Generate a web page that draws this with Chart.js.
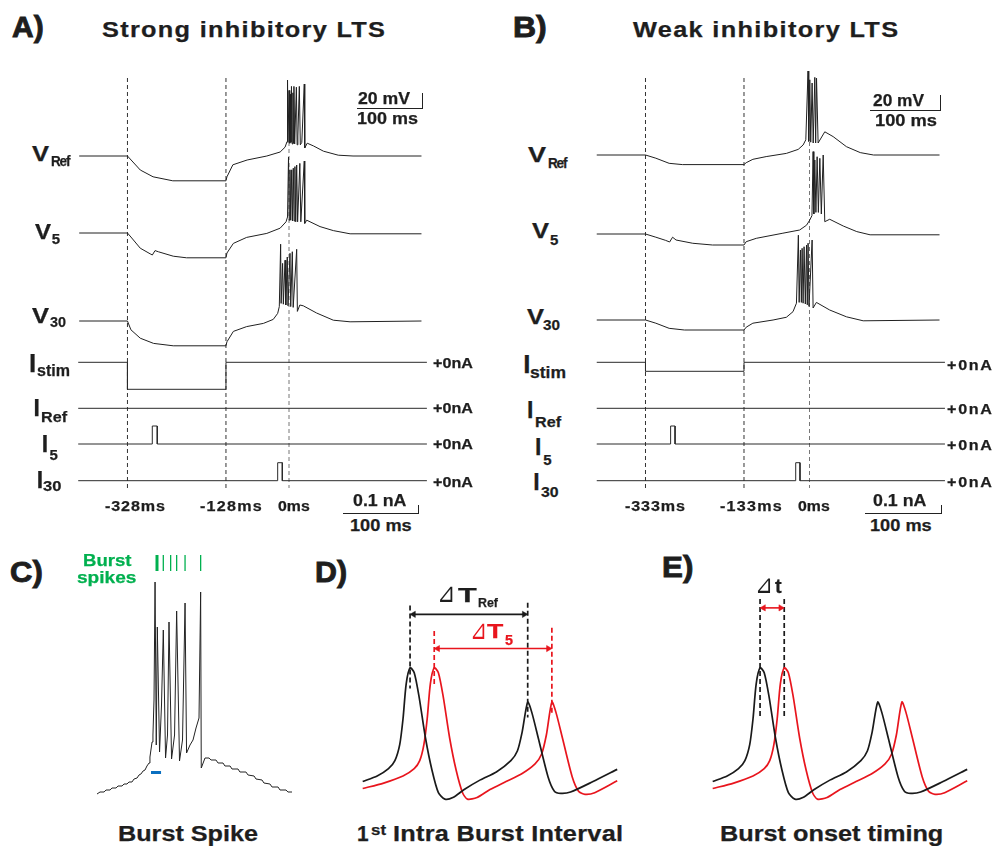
<!DOCTYPE html>
<html><head><meta charset="utf-8">
<script src="https://cdn.jsdelivr.net/npm/chart.js@4.4.1/dist/chart.umd.min.js"></script>
<style>
html,body{margin:0;padding:0;background:#fff;}
#stage{position:relative;width:992px;height:846px;overflow:hidden;background:#fff;}
#stage canvas{position:absolute;}
.t{position:absolute;white-space:nowrap;color:#1e1e1e;transform-origin:0 0;-webkit-text-stroke:0.25px currentColor;}
.h{-webkit-text-stroke:0.9px currentColor;}
.rule{position:absolute;background:#222;}
</style></head>
<body><div id="stage"></div>
<script>
// ================= DATA =================
// Panel A — strong inhibitory LTS   (time ms, membrane potential mV / current nA)
const strongMarkers = [-328, -128, 0];
const strongMarkerLabels = ['-328ms', '-128ms', '0ms'];
const strongVRef = [[-426,-65],[-328,-65],[-302,-82.5],[-276,-91],[-236,-96],[-128,-96],[-126,-91],[-114,-76],[-85,-70],[-45,-65],[-18,-60],[-8,-54],[-4,-47],
  [-3,30],[-2,-48],[0,17],[1.5,-49],[3,12],[4,-48],[5,22],[6.5,-50],[8,14],[9,-49],[10,22],[11.5,-50],[15,21],[16.5,-51],[18,-40],[21,22],[23,-51],[26,-48],[31,25],[32,-55],[37,-49],[50,-52.5],[70,-59],[100,-64],[130,-65],[269,-65]];
const strongV5 = [[-426,-65],[-328,-65],[-321,-70],[-302,-84],[-282,-91],[-277.5,-92.5],[-272,-87],[-265,-88.5],[-235,-94],[-208,-96],[-128,-96],[-126,-90],[-113,-78],[-86,-70.5],[-45,-65.5],[-18,-59],[-6,-51],[-3,-45],
  [-1,30],[0.5,-49],[2,14],[3.5,-49],[5.5,14],[7,-50],[8.7,16],[10.3,-50],[12,18],[13.7,-51],[15.6,20],[17.5,-51],[22,22],[24,-51],[31,25],[32,-53],[36,-49],[63,-57],[90,-62],[124,-66],[269,-66]];
const strongV30 = [[-426,-65],[-328,-65],[-321,-76],[-302,-86.5],[-275,-93],[-235,-96],[-128,-96],[-126,-91],[-113,-78],[-86,-72],[-52,-68],[-32,-63],[-23,-55.5],[-19.7,-47],
  [-17,31],[-16,-43],[-13,7],[-11.5,-44],[-8,11],[-6.5,-45],[-3.5,15],[-2,-46],[2,19.6],[3.5,-47],[6.7,21.6],[8.5,-48],[15.6,24.6],[17,-53],[22,-45],[29,-46],[56,-55],[90,-64],[124,-66],[269,-65]];
const strongIstim = [[-428,0],[-328,0],[-328,-0.27],[-128,-0.27],[-128,0],[280,0]];
const strongIRef  = [[-428,0],[280,0]];
const strongI5    = [[-428,0],[-277.6,0],[-277.6,0.18],[-267.5,0.18],[-267.5,0],[280,0]];
const strongI30   = [[-428,0],[-23,0],[-23,0.18],[-13.6,0.18],[-13.6,0],[280,0]];

// Panel B — weak inhibitory LTS
const weakMarkers = [-333, -133, 0];
const weakMarkerLabels = ['-333ms', '-133ms', '0ms'];
const weakVRef = [[-432,-65],[-333,-65],[-312,-69],[-285,-75.4],[-258,-77],[-133,-77],[-128.5,-74.6],[-115,-70.4],[-88,-67],[-47,-63],[-23,-58],[-13,-52.5],[-7.5,-46],
  [-3,40],[-1.5,-48],[0.6,29],[2.5,-49],[5.3,25],[7.5,-50],[10.8,32],[12.5,-50],[14.3,31],[17.5,-50],[31,-36],[48,-42],[75,-54.6],[103,-62],[130,-65],[264,-65]];
const weakV5 = [[-432,-65],[-333,-65],[-312,-69],[-292,-73],[-284,-75],[-278,-69],[-271,-72.5],[-237,-76.6],[-197,-78.75],[-133,-78.75],[-128.5,-74.6],[-108,-70.4],[-54,-64],[-20,-60],[-6,-54],[0.6,-47.5],
  [5,-42],[7.3,38],[8.8,-40],[10.8,27.5],[13,-38],[15.5,31.6],[18,-38],[21,29.6],[24,-40],[27.8,33.75],[31,-49.6],[41,-46.6],[68.5,-55],[96,-62],[123,-66],[264,-66]];
const weakV30 = [[-432,-65],[-333,-65],[-312,-69],[-285,-75.4],[-254,-77.5],[-133,-77.5],[-128.5,-74],[-115,-69],[-74,-65],[-47,-61.6],[-33.5,-54.6],[-26.5,-44],
  [-22.6,41],[-21,-43],[-18.4,22.5],[-16.5,-43],[-15,24.6],[-13,-44],[-11,26.6],[-8.5,-45],[-6,28.75],[-4.5,-46],[-2.9,31],[-1,-48],[5.3,35],[7.3,-50],[14,-43],[41,-52.5],[75,-61],[109,-66],[264,-65]];
const weakIstim = [[-432,0],[-333,0],[-333,-0.09],[-133,-0.09],[-133,0],[275,0]];
const weakIRef  = [[-432,0],[275,0]];
const weakI5    = [[-432,0],[-282,0],[-282,0.18],[-273,0.18],[-273,0],[275,0]];
const weakI30   = [[-432,0],[-28,0],[-28,0.18],[-19.3,0.18],[-19.3,0],[275,0]];

// Panel C — burst spike (ms, mV)
const burstTrace = [[0,-70],[2,-69],[4.7,-69],[6,-68],[8.7,-68],[10,-67],[12.7,-67],[14,-66],[16.7,-66],[18,-65],[20,-65],[21.3,-64],[23.3,-64],[24.7,-62.5],[26.7,-62],[28,-60.5],[29.3,-60],[30.7,-58.5],[32,-58],[33.3,-56],[34.7,-54.5],[35.3,-51.5],[36.7,-44],[37.3,-40.5],[38,-23],
  [38.7,36],[39.5,-45.5],[40.2,13.5],[41.7,-49],[43,-25.5],[44.2,12],[45.7,-52],[47,-40.5],[48,16],[49.7,-52.5],[51.7,-40.5],[53.1,21.5],[55,-53.5],[57,-43],[58.7,25.5],[59.7,-49.5],[62,-45.5],[64,-43],[66,-37],[68,-32],[69.1,31],[69.5,-57],
  [72,-52],[74.7,-52],[76,-53],[79.3,-53],[80.7,-54.5],[84,-54.5],[85.3,-56],[88.7,-56],[90,-57.5],[94,-57.5],[95.3,-59],[99.3,-59],[100.7,-60.5],[104.7,-61],[106,-62.5],[110,-63],[111.3,-64.5],[115.3,-65],[116.7,-66.5],[120.7,-66.5],[122,-68],[126,-68],[127.3,-69],[130,-69]];
const burstSpikeTicks = [40, 44.2, 49.1, 53.1, 58.7, 69.1];
const burstOnsetBar = [36, 42.7];

// Panels D & E — reference (black) and delayed (red) neuron (ms, mV)
const refTrace = [[0,-56.3],[15,-52],[26.7,-46.3],[33.3,-40],[38.3,-27.5],[41.7,-7.5],[45,20],[49,32.5],[53.3,28.7],[58.3,10],[65,-22.5],[71.7,-47.5],[78.3,-65],[85,-70],[93.3,-68.8],[105,-62.5],[121.7,-55],[138.3,-48.8],[153.3,-40],[160,-32.5],[165,-17.5],[170.7,5.75],[175,-2.5],[181.7,-22.5],[191.7,-52.5],[198.3,-63.8],[205,-65.5],[215,-64.5],[238.3,-56.3],[263.3,-46.8]];
const delayedTrace = [[0,-61.75],[21.7,-57.5],[41.7,-52],[53.3,-46.3],[59,-40],[63.3,-27.5],[66.7,-7.5],[70,20],[74,32.5],[78.3,28.7],[83.3,10],[90,-22.5],[96.7,-47.5],[103.3,-65],[108.3,-70],[118.3,-68.8],[131.7,-62.5],[148.3,-56.3],[165,-50],[178.3,-42.5],[185,-35],[190,-20],[195.7,5.75],[200,-2.5],[206.7,-22.5],[216.7,-52.5],[223.3,-63.8],[230,-66.25],[240,-65],[263.3,-55.75]];
const refPeaks = [49, 170.7];
const delayedPeaks = [74, 195.7];

// ================= DRAWING =================
const INK = '#1e1e1e', RED = '#e8151d', GREEN = '#00b04f', BLUE = '#0a6fc0';
const FONT = '"Liberation Sans", Arial, "DejaVu Sans", sans-serif';
const stage = document.getElementById('stage');
const mctx = document.createElement('canvas').getContext('2d');

function pts(pairs, off) { off = off || 0; return pairs.map(p => ({x: p[0], y: p[1] + off})); }
function line(pairs, o) {
  return Object.assign({data: pts(pairs, o.off), showLine: true, pointRadius: 0, borderWidth: 1,
    borderColor: INK, backgroundColor: INK, tension: 0, clip: false, order: 1}, o);
}
function makeChart(left, top, w, h, xr, yscales, datasets) {
  const c = document.createElement('canvas');
  c.width = w; c.height = h;
  c.style.left = left + 'px'; c.style.top = top + 'px';
  c.style.width = w + 'px'; c.style.height = h + 'px';
  stage.appendChild(c);
  const scales = {x: {type: 'linear', display: false, min: xr[0], max: xr[1]}};
  for (const id in yscales) scales[id] = {type: 'linear', display: false, min: yscales[id][0], max: yscales[id][1]};
  return new Chart(c, {type: 'scatter', data: {datasets},
    options: {responsive: false, animation: false, events: [], devicePixelRatio: 1,
      layout: {padding: 0}, plugins: {legend: {display: false}, tooltip: {enabled: false}},
      elements: {line: {borderJoinStyle: 'round'}}, scales}});
}

// ---- Panels A and B ----
function tracePanel(left, zeroX, markers, V, I, vRows) {
  const k = 0.4925, W = 370, H = 440, TOP = 60;
  const xr = [(left - zeroX) / k, (left + W - zeroX) / k];
  const vPx = 0.8, iPx = 100;
  const iRows = [362.3, 408.3, 444, 480.7];
  const ds = [];
  V.forEach((tr, i) => ds.push(line(tr, {yAxisID: 'yV', off: 65 - (vRows[i] - TOP) / vPx, borderColor: '#202020'})));
  I.forEach((tr, i) => ds.push(line(tr, {yAxisID: 'yI', off: -(iRows[i] - TOP) / iPx, borderColor: '#2a2a2a'})));
  markers.forEach((m, i) => {
    const yTop = i === 2 ? -(142 - TOP) / vPx : -(78 - TOP) / vPx;
    ds.push(line([[m, yTop], [m, -(488 - TOP) / vPx]], {yAxisID: 'yV', borderDash: [4, 3],
      borderColor: i === 2 ? '#777' : '#333', order: 10}));
  });
  makeChart(left, TOP, W, H, xr, {yV: [-H / vPx, 0], yI: [-H / iPx, 0]}, ds);
}
tracePanel(70, 289, strongMarkers, [strongVRef, strongV5, strongV30], [strongIstim, strongIRef, strongI5, strongI30], [156, 233, 321]);
tracePanel(590, 809.5, weakMarkers, [weakVRef, weakV5, weakV30], [weakIstim, weakIRef, weakI5, weakI30], [155, 234, 320]);

// ---- Panel C ----
(function () {
  const ds = [line(burstTrace, {borderColor: '#222'})];
  burstSpikeTicks.forEach((t, i) => ds.push(line([[t, 41.5], [t, 49.5]], {borderColor: GREEN, borderWidth: i === 0 ? 3 : 1.3})));
  ds.push(line([[burstOnsetBar[0], -59.25], [burstOnsetBar[1], -59.25]], {borderColor: BLUE, borderWidth: 3}));
  makeChart(90, 545, 210, 255, [(90 - 97) / 1.5, (300 - 97) / 1.5], {y: [-73, 54.5]}, ds);
})();

// ---- Panels D and E ----
function arrow(t1, t2, y, color) {
  const r = 3.6;
  return [line([[t1 + 2, y], [t2 - 2, y]], {borderColor: color, borderWidth: 1.6}),
    {data: pts([[t1 + r, y], [t2 - r, y]]), showLine: false, pointStyle: 'triangle', pointRadius: r,
     pointRotation: [-90, 90], pointBackgroundColor: color, pointBorderColor: color, pointBorderWidth: 0.5, clip: false}];
}
function dashed(t, y1, y2, color) {
  return line([[t, y1], [t, y2]], {borderColor: color, borderWidth: 1.7, borderDash: [5, 3], order: 5});
}
function spikePanel(left, annot) {
  const ds = [line(refTrace, {borderColor: '#1a1a1a', borderWidth: 1.7, tension: 0.25}),
              line(delayedTrace, {borderColor: RED, borderWidth: 1.7, tension: 0.25})];
  annot(ds);
  makeChart(left, 580, 270, 230, [-3.3, 266.7], {y: [-75, 97.5]}, ds);
}
spikePanel(355, ds => {
  ds.push(dashed(refPeaks[0], 81.2, 16.25, '#1a1a1a'), dashed(refPeaks[1], 83.2, -6.25, '#1a1a1a'),
          dashed(delayedPeaks[0], 61.25, 17.5, RED), dashed(delayedPeaks[1], 63.7, -5, RED));
  ds.push(...arrow(refPeaks[0], refPeaks[1], 74.2, '#1a1a1a'), ...arrow(delayedPeaks[0], delayedPeaks[1], 47.5, RED));
});
spikePanel(705, ds => {
  ds.push(dashed(refPeaks[0], 86.2, -6.25, '#1a1a1a'), dashed(delayedPeaks[0], 86.2, -6.25, '#1a1a1a'));
  ds.push(...arrow(refPeaks[0], delayedPeaks[0], 79.25, RED));
});

// ---- text ----
function label(str, left, base, size, o) {
  o = o || {};
  const weight = o.weight || 700, fam = o.family || FONT;
  const d = document.createElement('div');
  d.className = 't' + (o.heavy ? ' h' : ''); d.textContent = str;
  d.style.fontFamily = fam; d.style.fontWeight = weight;
  d.style.fontSize = size + 'px'; d.style.lineHeight = size + 'px';
  d.style.left = left + 'px'; d.style.top = (base - 0.8465 * size) + 'px';
  if (o.color) d.style.color = o.color;
  if (o.thin) d.style.webkitTextStroke = '0px';
  if (o.w) {
    mctx.font = weight + ' ' + size + 'px ' + fam;
    const w0 = mctx.measureText(str).width, n = [...str].length;
    let s = o.w / w0;
    if (n > 1) s = Math.min(Math.max(s, 0.9), o.maxScale || 1.15);
    const ls = n > 1 ? (o.w / s - w0) / (n - 1) : 0;
    d.style.letterSpacing = ls + 'px';
    d.style.transform = 'scaleX(' + s + ')';
  }
  stage.appendChild(d);
}
function rule(x, y, w, h) {
  const d = document.createElement('div'); d.className = 'rule';
  d.style.left = x + 'px'; d.style.top = y + 'px'; d.style.width = w + 'px'; d.style.height = h + 'px';
  stage.appendChild(d);
}

// headings
label('A)', 11.7, 38, 29, {w: 31.6, heavy: true});
label('Strong inhibitory LTS', 101.7, 37.3, 22, {w: 283});
label('B)', 513, 38, 29, {w: 33.7, heavy: true});
label('Weak inhibitory LTS', 633, 37.3, 22, {w: 265});

// row labels panel A
label('V', 31.7, 162, 22, {w: 17}); label('Ref', 50.5, 166, 15, {w: 19.5});
label('V', 35, 240, 22, {w: 16}); label('5', 51.7, 244, 15);
label('V', 32.3, 323.3, 22, {w: 17}); label('30', 50, 327, 15, {w: 16});
label('I', 29, 372.5, 26); label('stim', 37, 377, 16, {w: 33});
label('I', 33.5, 416.5, 23); label('Ref', 41, 421.7, 15, {w: 26});
label('I', 41.7, 452, 23); label('5', 49.5, 460, 15);
label('I', 36.7, 488.3, 23); label('30', 43.3, 490.5, 15, {w: 18.4});
// row labels panel B
label('V', 528, 163, 22, {w: 18}); label('Ref', 548, 168, 15, {w: 19.5});
label('V', 532, 238.5, 22, {w: 17}); label('5', 550, 245, 15);
label('V', 527, 325, 22, {w: 17}); label('30', 543, 330, 15, {w: 17});
label('I', 523.3, 373.3, 26); label('stim', 530, 378.3, 16, {w: 36});
label('I', 527, 418, 23); label('Ref', 535, 426.5, 15, {w: 26});
label('I', 535, 455, 23); label('5', 543.3, 465, 15);
label('I', 533.3, 490, 23); label('30', 540.7, 496.5, 15, {w: 17.6});

// +0nA
[[368, 412.7, 449, 486.7], [369.5, 414, 449.5, 487]].forEach((bs, p) =>
  bs.forEach(b => label('+0nA', p ? 946.7 : 433.3, b, 14, {w: p ? 45 : 40})));

// time markers
const markerLeft = [[105, 200, 278.3], [625, 720, 798.3]];
const markerW = [60, 61.7, 31.7];
strongMarkerLabels.forEach((s, i) => label(s, markerLeft[0][i], 510.5, 14, {w: markerW[i]}));
weakMarkerLabels.forEach((s, i) => label(s, markerLeft[1][i], 510.5, 14, {w: markerW[i]}));

// scale bars
label('20 mV', 358, 105, 16, {w: 52}); label('100 ms', 357, 125, 16, {w: 61});
rule(356.7, 108, 66, 1.2); rule(422, 92.7, 1.2, 16.5);
label('20 mV', 873, 107, 16, {w: 51}); label('100 ms', 875, 127, 16, {w: 62});
rule(870, 110, 70, 1.2); rule(939.5, 95, 1.2, 16);
label('0.1 nA', 353.3, 506.7, 17, {w: 53.4}); label('100 ms', 350, 531.7, 17, {w: 61.7});
rule(343.3, 513, 75, 1.2); rule(418, 505, 1.2, 9);
label('0.1 nA', 873.3, 506.7, 17, {w: 53.4}); label('100 ms', 870, 531.7, 17, {w: 61.7});
rule(865, 513, 76.7, 1.2); rule(941, 505, 1.2, 9);

// lower panels
label('C)', 10, 583, 29, {w: 32.7, heavy: true});
label('D)', 315, 583, 29, {w: 32, heavy: true});
label('E)', 661.7, 578, 29, {w: 31.3, heavy: true});
label('Burst', 83.3, 566.7, 17, {w: 48.4, color: GREEN});
label('spikes', 77.3, 583.3, 17, {w: 59.4, color: GREEN});
label('Burst Spike', 118.3, 841.7, 22, {w: 140});
label('1', 356.7, 841.7, 22, {w: 11.6}); label('st', 370.7, 835, 15, {w: 15, maxScale: 1.3});
label('Intra Burst Interval', 393.3, 841.7, 22, {w: 230});
label('Burst onset timing', 720, 841.7, 22, {w: 223.3});
const TRI = '"DejaVu Sans", "Noto Sans CJK KR", sans-serif';
label('\u22BF', 436.7, 602, 27, {w: 18.3, weight: 400, family: TRI, thin: true});
label('T', 458, 601.7, 20, {w: 18.7}); label('Ref', 478, 606.7, 13, {w: 20});
label('\u22BF', 469.5, 638.5, 27, {w: 17, weight: 400, family: TRI, color: RED, thin: true});
label('T', 486.7, 638, 21, {w: 16.3, color: RED}); label('5', 505, 645, 14, {w: 8, color: RED});
label('\u22BF', 755, 593.5, 26, {w: 18, weight: 400, family: TRI, thin: true});
label('t', 775, 593, 21, {w: 6.7});
</script>
</body></html>
